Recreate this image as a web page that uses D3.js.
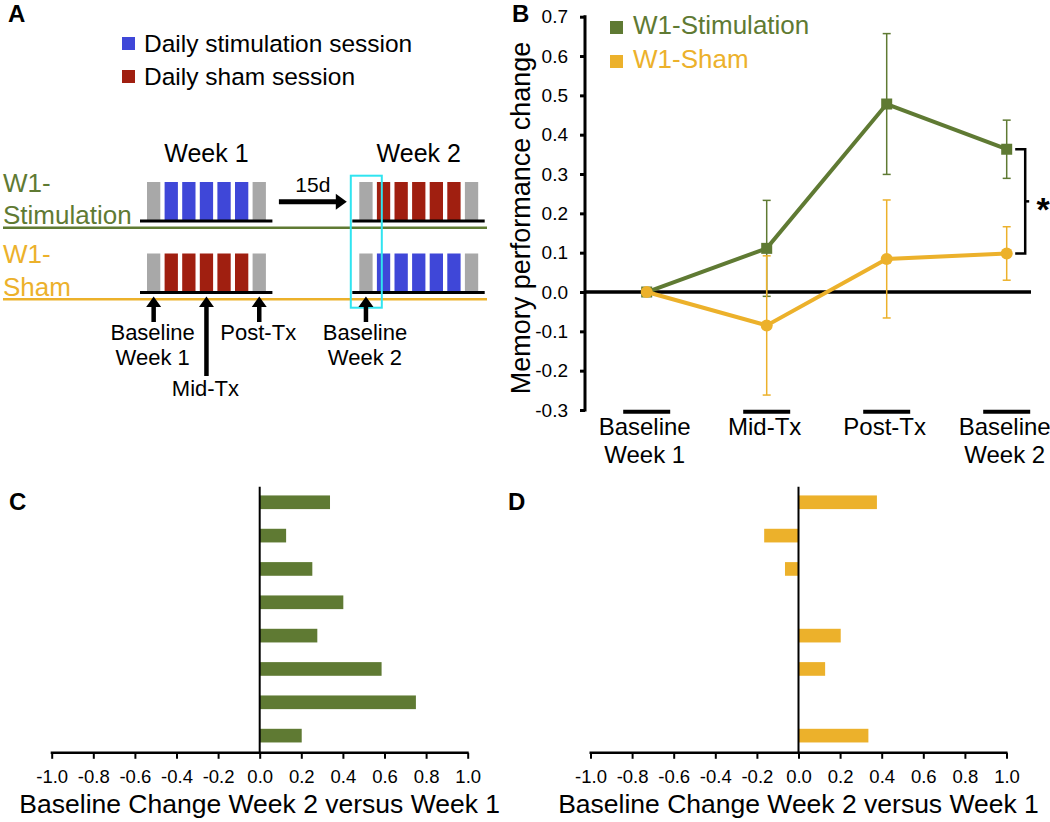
<!DOCTYPE html>
<html><head><meta charset="utf-8">
<script src="https://cdn.jsdelivr.net/npm/d3@7"></script>
<style>
body{margin:0;background:#fff;}
svg{display:block;font-family:"Liberation Sans",Arial,Helvetica,sans-serif;}
</style></head><body>
<svg id="chart" width="1050" height="822"></svg>
<script>
// ---------- Panel A data ----------
const sessionLegend = ["Daily stimulation session", "Daily sham session"];
const sessionKinds = ["stim", "sham"];
const groups = ["W1-Stimulation", "W1-Sham"];
const groupLabelLines = [["W1-", "Stimulation"], ["W1-", "Sham"]];
const weeks = ["Week 1", "Week 2"];
const dayRoles = ["assess", "tx", "tx", "tx", "tx", "tx", "assess"];
const week1Session = ["stim", "sham"];
const week2Session = ["sham", "stim"];
const assessLabels = [["Baseline", "Week 1"], ["Mid-Tx"], ["Post-Tx"], ["Baseline", "Week 2"]];
const assessWeek = [0, 0, 0, 1];
const assessDay = [0, 3, 6, 0];
const gapLabel = "15d";

// ---------- Panel B data ----------
const timepoints = ["Baseline Week 1", "Mid-Tx", "Post-Tx", "Baseline Week 2"];
const timepointLines = [["Baseline", "Week 1"], ["Mid-Tx"], ["Post-Tx"], ["Baseline", "Week 2"]];
const stimMean = [0, 0.111, 0.478, 0.363];
const stimErr = [0, 0.122, 0.179, 0.074];
const shamMean = [0, -0.085, 0.084, 0.098];
const shamErr = [0, 0.177, 0.150, 0.068];
const yTicksB = [-0.3, -0.2, -0.1, 0, 0.1, 0.2, 0.3, 0.4, 0.5, 0.6, 0.7];
const seriesNames = ["W1-Stimulation", "W1-Sham"];
const yTitleB = "Memory performance change";

// ---------- Panels C / D data ----------
const participants = [1, 2, 3, 4, 5, 6, 7, 8];
const stimChange = [0.338, 0.127, 0.253, 0.402, 0.277, 0.586, 0.751, 0.202];
const shamChange = [0.377, -0.165, -0.065, 0, 0.203, 0.128, 0, 0.336];
const xTicksCD = [-1.0, -0.8, -0.6, -0.4, -0.2, 0.0, 0.2, 0.4, 0.6, 0.8, 1.0];
const xTitleCD = "Baseline Change Week 2 versus Week 1";

// ---------- styles ----------
const GREEN = "#5f7a33", GOLD = "#ecb12b", BLUE = "#3f47d8", RED = "#a01f10",
      GRAY = "#a8a8a8", CYAN = "#30e4f0";
const sessionColor = {stim: BLUE, sham: RED};
const groupColor = [GREEN, GOLD];

const svg = d3.select("#chart");
svg.append("rect").attr("width", 1050).attr("height", 822).attr("fill", "#fff");

function panelLabel(t, x, y) {
  svg.append("text").attr("x", x).attr("y", y).text(t)
    .style("font-weight", "bold").style("font-size", "24px");
}

// =============== PANEL A ===============
panelLabel("A", 8, 22);
const A = svg.append("g");

sessionLegend.forEach((t, i) => {
  A.append("rect").attr("x", 122).attr("y", 37 + i * 33).attr("width", 13).attr("height", 13)
    .attr("fill", sessionColor[sessionKinds[i]]);
  A.append("text").attr("x", 144).attr("y", 52 + i * 33).text(t).style("font-size", "24.5px");
});

const weekStart = [147, 359.3];
const dayScale = weeks.map((w, i) => d3.scaleBand().domain(d3.range(dayRoles.length))
  .range([weekStart[i], weekStart[i] + 118.9]).paddingInner(0.244).paddingOuter(0));
const rowBase = d3.scaleOrdinal().domain(groups).range([220.5, 292]);
const barH = 38.5;

weeks.forEach((w, wi) => {
  const ds = dayScale[wi];
  A.append("text").attr("x", ds.range()[0] + (ds.range()[1] - ds.range()[0]) / 2).attr("y", 161.7)
    .attr("text-anchor", "middle").style("font-size", "25px").text(w);
});

groups.forEach((g, gi) => {
  const base = rowBase(g);
  A.append("line").attr("x1", 3).attr("x2", 487).attr("y1", base + 7.3).attr("y2", base + 7.3)
    .attr("stroke", groupColor[gi]).attr("stroke-width", 2.5);
  A.append("text").attr("x", 3).attr("y", base - 29).text(groupLabelLines[gi][0])
    .attr("fill", groupColor[gi]).style("font-size", "26px");
  A.append("text").attr("x", 3).attr("y", base + 3.5).text(groupLabelLines[gi][1])
    .attr("fill", groupColor[gi]).style("font-size", "26px");
  weeks.forEach((w, wi) => {
    const ds = dayScale[wi];
    const kind = wi === 0 ? week1Session[gi] : week2Session[gi];
    A.selectAll(null).data(dayRoles).enter().append("rect")
      .attr("x", (d, i) => ds(i)).attr("width", ds.bandwidth())
      .attr("y", base - barH).attr("height", barH)
      .attr("fill", d => d === "assess" ? GRAY : sessionColor[kind]);
    A.append("line").attr("x1", ds(0) - 7).attr("x2", ds(dayRoles.length - 1) + ds.bandwidth() + 6.5)
      .attr("y1", base + 0.5).attr("y2", base + 0.5).attr("stroke", "#000").attr("stroke-width", 3);
  });
});

// cyan highlight around week 2 baseline
{
  const ds = dayScale[1];
  A.append("rect").attr("x", ds(0) - 8.5).attr("y", 175.7).attr("width", 31).attr("height", 132)
    .attr("fill", "none").attr("stroke", CYAN).attr("stroke-width", 2);
}

// 15d arrow
function arrowRight(x1, x2, y) {
  A.append("line").attr("x1", x1).attr("x2", x2 - 9).attr("y1", y).attr("y2", y)
    .attr("stroke", "#000").attr("stroke-width", 5);
  A.append("path").attr("d", `M${x2},${y} L${x2 - 11},${y - 8} L${x2 - 11},${y + 8} Z`).attr("fill", "#000");
}
{
  const x1 = dayScale[0](dayRoles.length - 1) + dayScale[0].bandwidth() + 13;
  const x2 = dayScale[1](0) - 12.5;
  arrowRight(x1, x2, 201.7);
  A.append("text").attr("x", (x1 + x2) / 2).attr("y", 191.7).attr("text-anchor", "middle")
    .style("font-size", "21px").text(gapLabel);
}

// assessment arrows
assessLabels.forEach((lines, i) => {
  const ds = dayScale[assessWeek[i]];
  const x = ds(assessDay[i]) + ds.bandwidth() / 2;
  const tip = 296.5;
  const long = lines.length === 1 && i === 1;
  const bottom = long ? 376 : 322;
  A.append("line").attr("x1", x).attr("x2", x).attr("y1", tip + 8).attr("y2", bottom)
    .attr("stroke", "#000").attr("stroke-width", 4.5);
  A.append("path").attr("d", `M${x},${tip} L${x - 7.5},${tip + 10.5} L${x + 7.5},${tip + 10.5} Z`).attr("fill", "#000");
  const y0 = long ? 396 : 340;
  lines.forEach((t, li) => {
    A.append("text").attr("x", x - 1).attr("y", y0 + li * 25).attr("text-anchor", "middle")
      .style("font-size", "22px").text(t);
  });
});

// =============== PANEL B ===============
panelLabel("B", 512, 22);
const B = svg.append("g");
const yB = d3.scaleLinear().domain([-0.3, 0.7]).range([410, 16.7]);
const axisX = 585;
const xB = d3.scalePoint().domain(timepoints).range([646.7, 1006.7]);

const yAxisB = B.append("g").attr("transform", `translate(${axisX},0)`)
  .call(d3.axisLeft(yB).tickValues(yTicksB).tickFormat(d => d.toFixed(1)).tickSize(5).tickSizeOuter(0).tickPadding(12));
yAxisB.select(".domain").attr("stroke-width", 3).attr("d", `M0,${yB(0.7) - 1.5}V${yB(-0.3) + 1.5}`);
yAxisB.selectAll(".tick line").attr("stroke-width", 3);
yAxisB.selectAll(".tick text").style("font-size", "19px").style("font-family", "Liberation Sans, Arial, sans-serif").attr("fill", "#000");

B.append("line").attr("x1", axisX).attr("x2", 1031).attr("y1", yB(0)).attr("y2", yB(0))
  .attr("stroke", "#000").attr("stroke-width", 3.5);

timepoints.forEach((t, i) => {
  const cx = xB(t);
  B.append("line").attr("x1", cx - 23.5).attr("x2", cx + 23.5).attr("y1", 411.7).attr("y2", 411.7)
    .attr("stroke", "#000").attr("stroke-width", 4);
  timepointLines[i].forEach((s, li) => {
    B.append("text").attr("x", cx - 2).attr("y", 435 + li * 28).attr("text-anchor", "middle")
      .style("font-size", "24px").text(s);
  });
});

B.append("text").attr("transform", `translate(530,218) rotate(-90)`).attr("text-anchor", "middle")
  .style("font-size", "27px").text(yTitleB);

function series(mean, err, color, marker) {
  const pts = timepoints.map((t, i) => ({t, m: mean[i], e: err[i]}));
  const eb = pts.filter(p => p.e > 0);
  B.selectAll(null).data(eb).enter().append("line")
    .attr("x1", p => xB(p.t)).attr("x2", p => xB(p.t))
    .attr("y1", p => yB(p.m - p.e)).attr("y2", p => yB(p.m + p.e))
    .attr("stroke", color).attr("stroke-width", 1.5);
  [-1, 1].forEach(s => {
    B.selectAll(null).data(eb).enter().append("line")
      .attr("x1", p => xB(p.t) - 4).attr("x2", p => xB(p.t) + 4)
      .attr("y1", p => yB(p.m + s * p.e)).attr("y2", p => yB(p.m + s * p.e))
      .attr("stroke", color).attr("stroke-width", 1.5);
  });
  B.append("path").datum(pts)
    .attr("d", d3.line().x(p => xB(p.t)).y(p => yB(p.m)))
    .attr("fill", "none").attr("stroke", color).attr("stroke-width", 4);
  if (marker === "square") {
    B.selectAll(null).data(pts).enter().append("rect")
      .attr("x", p => xB(p.t) - 5.5).attr("y", p => yB(p.m) - 5.5)
      .attr("width", 11).attr("height", 11).attr("fill", color);
  } else {
    B.selectAll(null).data(pts).enter().append("circle")
      .attr("cx", p => xB(p.t)).attr("cy", p => yB(p.m)).attr("r", 6).attr("fill", color);
  }
}
series(stimMean, stimErr, GREEN, "square");
series(shamMean, shamErr, GOLD, "circle");

{
  const last = timepoints[timepoints.length - 1];
  const bx = xB(last) + 8.5;
  const y1 = yB(stimMean[3]), y2 = yB(shamMean[3]);
  B.append("path").attr("d", `M${bx},${y1} H${bx + 10} V${y2} H${bx}`)
    .attr("fill", "none").attr("stroke", "#000").attr("stroke-width", 2.5);
  B.append("line").attr("x1", bx + 10).attr("x2", bx + 14).attr("y1", (y1 + y2) / 2).attr("y2", (y1 + y2) / 2)
    .attr("stroke", "#000").attr("stroke-width", 2.5);
  B.append("text").attr("x", bx + 28).attr("y", (y1 + y2) / 2 + 20).attr("text-anchor", "middle")
    .style("font-size", "34px").style("font-weight", "bold").text("*");
}

seriesNames.forEach((n, i) => {
  B.append("rect").attr("x", 610).attr("y", 21 + i * 34).attr("width", 13).attr("height", 13)
    .attr("fill", groupColor[i]);
  B.append("text").attr("x", 633).attr("y", 33.5 + i * 34).attr("fill", groupColor[i])
    .style("font-size", "26px").text(n);
});

// =============== PANELS C & D ===============
function barPanel(label, labelX, zeroX, values, color) {
  panelLabel(label, labelX, 510);
  const G = svg.append("g");
  const x = d3.scaleLinear().domain([-1, 1]).range([zeroX - 208, zeroX + 208]);
  const y = d3.scaleBand().domain(participants).range([485.6, 752.3]).paddingInner(0.59).paddingOuter(0.295);
  const axisY = 752.8;
  G.selectAll(null).data(participants).enter().append("rect")
    .attr("x", (p, i) => Math.min(x(0), x(values[i])))
    .attr("width", (p, i) => Math.abs(x(values[i]) - x(0)))
    .attr("y", p => y(p)).attr("height", y.bandwidth())
    .attr("fill", color);
  G.append("line").attr("x1", x(0)).attr("x2", x(0)).attr("y1", 486.7).attr("y2", axisY)
    .attr("stroke", "#000").attr("stroke-width", 2);
  const ax = G.append("g").attr("transform", `translate(0,${axisY})`)
    .call(d3.axisBottom(x).tickValues(xTicksCD).tickFormat(d => (Math.abs(d) < 1e-9 ? 0 : d).toFixed(1))
      .tickSize(6).tickSizeOuter(0).tickPadding(11));
  ax.select(".domain").attr("stroke-width", 2.5).attr("d", `M${x(-1) - 1},0H${x(1) + 1}`);
  ax.selectAll(".tick line").attr("stroke-width", 2);
  ax.selectAll(".tick text").style("font-size", "18.5px").style("font-family", "Liberation Sans, Arial, sans-serif").attr("fill", "#000");
  G.append("text").attr("x", x(0)).attr("y", 813).attr("text-anchor", "middle")
    .style("font-size", "26.5px").text(xTitleCD);
}
barPanel("C", 9, 259.7, stimChange, GREEN);
barPanel("D", 508, 798.5, shamChange, GOLD);
</script>
</body></html>
